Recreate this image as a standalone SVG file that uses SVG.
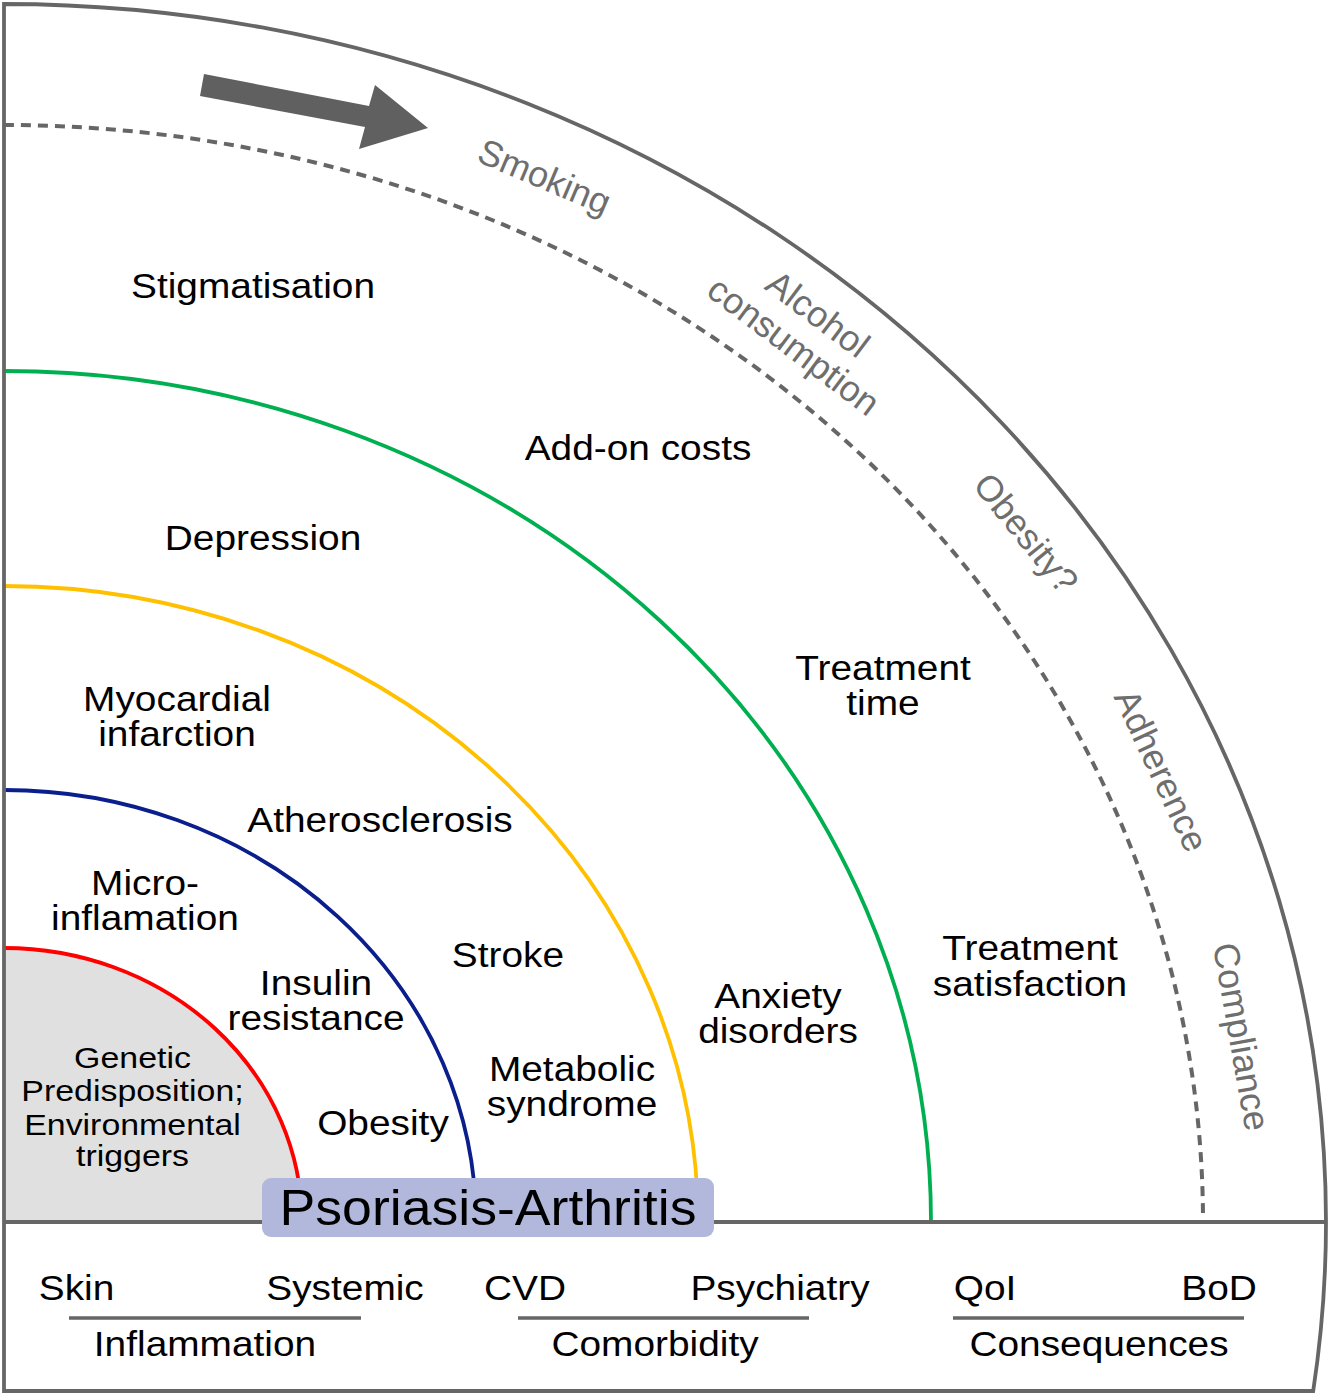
<svg xmlns="http://www.w3.org/2000/svg" width="1329" height="1394" viewBox="0 0 1329 1394">
<style>
.lbl{font-family:"Liberation Sans",Arial,sans-serif;font-size:35px;fill:#000;text-anchor:middle}
.sm{font-family:"Liberation Sans",Arial,sans-serif;font-size:30px;fill:#000;text-anchor:middle}
.gr{font-family:"Liberation Sans",Arial,sans-serif;font-size:36px;fill:#6e6e6e;text-anchor:middle}
.frame{fill:none;stroke:#666;stroke-width:3.8}
.ring{fill:none;stroke-width:3.8}
.ul{stroke:#666;stroke-width:3.5}
</style>
<rect width="1329" height="1394" fill="#fff"/>
<g id="rings">
<path d="M4,1222 L4,948 A298,274 0 0 1 302,1222 Z" fill="#e0e0e0"/>
<path class="ring" d="M4,948 A298,274 0 0 1 302,1222" stroke="#ff0000"/>
<path class="ring" d="M4,790 A472,432 0 0 1 476,1222" stroke="#0a1e8c"/>
<path class="ring" d="M4,586 A694,636 0 0 1 698,1222" stroke="#ffc000"/>
<path class="ring" d="M4,371 A927,851 0 0 1 931,1222" stroke="#00b050"/>
<path d="M4,125 A1199,1097 0 0 1 1203,1222" fill="none" stroke="#666" stroke-width="4" stroke-dasharray="10 7"/>
</g>
<g id="frame">
<path class="frame" d="M4,1391 L4,4 A1322,1218 0 0 1 1313.2,1391 Z"/>
<line class="frame" x1="4" y1="1222" x2="1327" y2="1222"/>
</g>
<g id="connectors">
<polygon points="204,74 369,106 375,85 428,128 359,149 365,127 200,96" fill="#606060"/>
</g>
<g id="psoriasis">
<rect x="262" y="1178" width="452" height="59" rx="9" fill="#b1b8dc"/>
<text class="lbl" style="font-size:50px" transform="matrix(1.072 0 0 1 488 0)" y="1225">Psoriasis-Arthritis</text>
</g>
<g id="genetic">
<text class="sm" transform="matrix(1.13 0 0 1 132.5 0)"><tspan x="0" y="1068">Genetic</tspan><tspan x="0" y="1101.5">Predisposition;</tspan><tspan x="0" y="1135">Environmental</tspan><tspan x="0" y="1166">triggers</tspan></text>
</g>
<g id="stigmatisation"><text class="lbl" transform="matrix(1.11 0 0 1 253 0)" y="298">Stigmatisation</text></g>
<g id="addon"><text class="lbl" transform="matrix(1.11 0 0 1 638 0)" y="460">Add-on costs</text></g>
<g id="depression"><text class="lbl" transform="matrix(1.11 0 0 1 263 0)" y="550">Depression</text></g>
<g id="treattime"><text class="lbl" transform="matrix(1.11 0 0 1 883 0)"><tspan x="0" y="680">Treatment</tspan><tspan x="0" y="715">time</tspan></text></g>
<g id="myocardial"><text class="lbl" transform="matrix(1.11 0 0 1 177 0)"><tspan x="0" y="711">Myocardial</tspan><tspan x="0" y="746">infarction</tspan></text></g>
<g id="athero"><text class="lbl" transform="matrix(1.11 0 0 1 380 0)" y="832">Atherosclerosis</text></g>
<g id="micro"><text class="lbl" transform="matrix(1.11 0 0 1 145 0)"><tspan x="0" y="895">Micro-</tspan><tspan x="0" y="930">inflamation</tspan></text></g>
<g id="stroke"><text class="lbl" transform="matrix(1.11 0 0 1 508 0)" y="967">Stroke</text></g>
<g id="treatsat"><text class="lbl" transform="matrix(1.11 0 0 1 1030 0)"><tspan x="0" y="960">Treatment</tspan><tspan x="0" y="996">satisfaction</tspan></text></g>
<g id="anxiety"><text class="lbl" transform="matrix(1.11 0 0 1 778 0)"><tspan x="0" y="1008">Anxiety</tspan><tspan x="0" y="1043">disorders</tspan></text></g>
<g id="insulin"><text class="lbl" transform="matrix(1.11 0 0 1 316 0)"><tspan x="0" y="995">Insulin</tspan><tspan x="0" y="1030">resistance</tspan></text></g>
<g id="metabolic"><text class="lbl" transform="matrix(1.11 0 0 1 572 0)"><tspan x="0" y="1081">Metabolic</tspan><tspan x="0" y="1116">syndrome</tspan></text></g>
<g id="obesity"><text class="lbl" transform="matrix(1.11 0 0 1 383 0)" y="1135">Obesity</text></g>
<g id="smoking"><text class="gr" transform="translate(544 178) rotate(23)" y="11">Smoking</text></g>
<g id="alcohol"><text class="gr" transform="translate(805 331) rotate(37)"><tspan x="0" y="-9">Alcohol</tspan><tspan x="0" y="31">consumption</tspan></text></g>
<g id="obesityq"><text class="gr" transform="translate(1025 534) rotate(51)" y="11">Obesity?</text></g>
<g id="adherence"><text class="gr" transform="translate(1160 771) rotate(65)" y="11">Adherence</text></g>
<g id="compliance"><text class="gr" transform="translate(1240 1037) rotate(80)" y="11">Compliance</text></g>
<g id="legend">
<text class="lbl" transform="matrix(1.11 0 0 1 76.5 0)" y="1300">Skin</text>
<text class="lbl" transform="matrix(1.11 0 0 1 345 0)" y="1300">Systemic</text>
<text class="lbl" transform="matrix(1.11 0 0 1 525 0)" y="1300">CVD</text>
<text class="lbl" transform="matrix(1.11 0 0 1 780 0)" y="1300">Psychiatry</text>
<text class="lbl" transform="matrix(1.11 0 0 1 985 0)" y="1300">QoI</text>
<text class="lbl" transform="matrix(1.11 0 0 1 1219 0)" y="1300">BoD</text>
<line class="ul" x1="69" y1="1318" x2="361" y2="1318"/>
<line class="ul" x1="518" y1="1318" x2="809" y2="1318"/>
<line class="ul" x1="953" y1="1318" x2="1244" y2="1318"/>
<text class="lbl" transform="matrix(1.11 0 0 1 205 0)" y="1356">Inflammation</text>
<text class="lbl" transform="matrix(1.11 0 0 1 655 0)" y="1356">Comorbidity</text>
<text class="lbl" transform="matrix(1.11 0 0 1 1099 0)" y="1356">Consequences</text>
</g>
</svg>
